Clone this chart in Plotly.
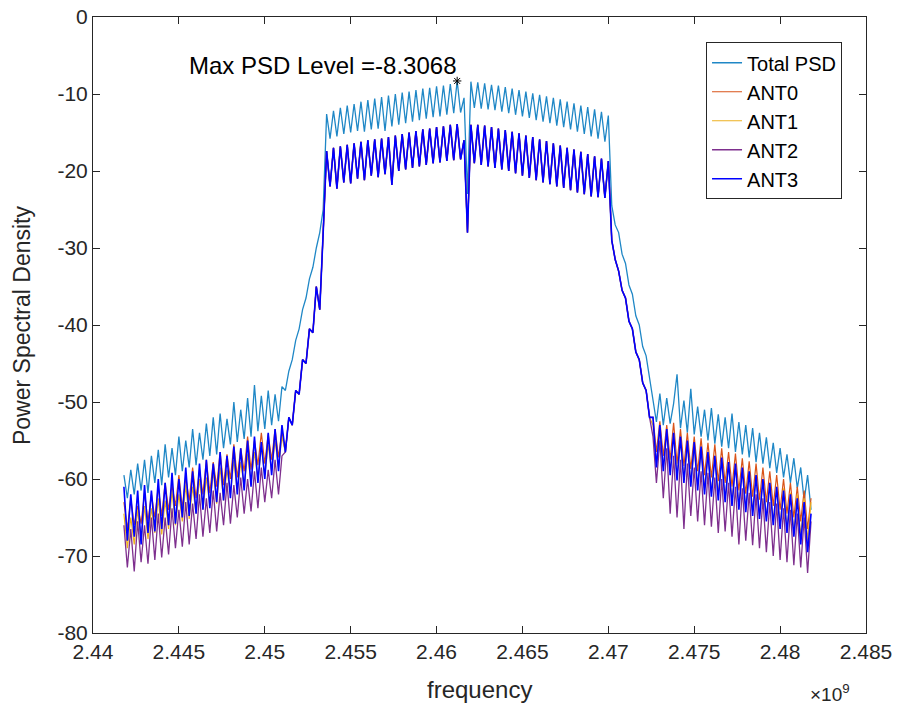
import numpy as np
import plotly.graph_objects as go

# ---------------- data ----------------
F_START_HZ = 2.4418e9
F_STEP_HZ = 0.2e6
N_POINTS = 201
frequency = F_START_HZ + F_STEP_HZ * np.arange(N_POINTS)

total_left = [-59.5,-62.5,-58.8,-62.0,-58.0,-61.5,-57.5,-61.8,-57.0,-60.5,
              -56.2,-60.8,-55.5,-59.8,-56.0,-59.5,-54.5,-59.0,-55.0,-58.5,
              -53.5,-58.2,-54.0,-57.5,-52.8,-57.0,-52.0,-56.8,-51.5,-56.0,
              -52.2,-55.5,-50.0,-55.2,-51.0,-54.8,-49.5,-54.5,-47.8,-53.8,
              -49.2,-53.5,-48.5,-53.0,-49.0,-52.5,-48.0]
total_rise = [-48.5,-46.0,-44.5,-42.0,-40.5,-38.0,-36.5,-34.0,-32.5,-30.0,-28.0,-25.0]
total_band = [-12.6,-15.8,-12.2,-15.5,-11.8,-15.2,-11.5,-15.0,-11.3,-14.8,
              -11.0,-14.9,-10.8,-14.6,-10.6,-14.5,-10.4,-14.8,-10.2,-14.2,
              -10.0,-14.0,-9.8,-13.8,-9.7,-13.6,-9.5,-13.4,-9.3,-13.2,
              -9.2,-13.0,-9.0,-12.9,-8.9,-12.7,-8.7,-12.5,-8.3068,-12.4,
              -10.5,
              -23.0,
              -8.4,-11.8,-8.5,-11.9,-8.6,-12.0,-8.8,-12.1,-8.9,-12.3,
              -9.1,-12.5,-9.3,-12.7,-9.5,-12.9,-9.7,-13.1,-9.9,-13.4,
              -10.1,-13.6,-10.3,-13.8,-10.5,-14.1,-10.7,-14.3,-11.0,-14.6,
              -11.2,-14.9,-11.5,-15.2,-11.7,-15.5,-12.0,-15.8,-12.3,-16.2,
              -12.8]
total_fall = [-24.5,-27.0,-28.0,-30.8,-32.0,-34.8,-36.0,-38.8,-40.0,-42.8,-44.0,-47.0]
total_right = [-49.8,-52.6,-48.9,-53.0,-49.5,-52.8,-50.2,-46.4,-53.4,-49.8,
               -54.0,-48.3,-54.2,-50.6,-54.5,-51.0,-55.0,-50.8,-55.4,-51.6,
               -55.8,-52.0,-56.0,-51.5,-56.5,-52.6,-56.8,-53.0,-57.2,-53.4,
               -57.8,-54.0,-58.0,-54.6,-58.6,-55.3,-59.2,-56.0,-59.8,-56.8,
               -60.5,-57.3,-61.2,-58.5,-62.8,-59.5,-64.0]

ant3_left = [-61.0,-68.0,-62.0,-67.5,-61.5,-68.5,-60.8,-67.0,-61.5,-66.8,
             -60.0,-66.5,-60.5,-66.0,-59.2,-65.8,-60.0,-65.0,-58.5,-64.8,
             -59.0,-64.5,-58.0,-64.0,-57.5,-63.8,-58.0,-63.0,-56.5,-62.8,
             -57.0,-62.5,-55.8,-62.0,-56.0,-61.5,-55.0,-61.0,-54.5,-60.5,
             -55.2,-60.0,-54.0,-59.5,-53.5,-59.0,-53.0]
ant_rise = [-56.5,-52.0,-53.0,-48.5,-49.0,-44.5,-45.0,-40.5,-41.0,-35.0,-38.0,-28.0]
ant_band = [-17.4,-22.0,-17.0,-22.3,-16.8,-21.5,-16.6,-21.6,-16.4,-21.0,
            -16.2,-21.2,-16.0,-20.6,-15.9,-20.8,-15.8,-20.4,-15.6,-21.8,
            -15.4,-20.0,-15.2,-19.8,-15.0,-19.6,-14.8,-19.4,-14.6,-19.2,
            -14.5,-19.0,-14.3,-18.9,-14.2,-18.7,-14.0,-18.6,-13.9,-18.5,
            -16.0,
            -28.0,
            -14.0,-19.0,-14.0,-19.2,-14.1,-19.4,-14.3,-19.6,-14.5,-19.8,
            -14.7,-20.0,-14.9,-20.3,-15.1,-20.6,-15.4,-20.9,-15.6,-21.2,
            -15.9,-21.5,-16.1,-21.7,-16.4,-22.0,-16.7,-22.2,-17.0,-22.5,
            -17.2,-22.8,-17.5,-23.0,-17.8,-23.3,-18.1,-23.4,-18.4,-23.5,
            -18.7]
ant_fall = [-29.0,-31.5,-33.0,-35.5,-36.5,-39.5,-40.5,-43.5,-44.5,-47.5,-48.5,-52.0]
ant3_right = [-52.0,-58.5,-53.0,-59.0,-53.5,-59.5,-54.0,-60.2,-54.5,-60.5,
              -55.0,-61.0,-55.2,-61.5,-55.8,-62.0,-56.5,-62.3,-57.0,-62.8,
              -57.2,-63.0,-57.8,-63.5,-58.0,-64.0,-58.5,-64.3,-59.0,-64.8,
              -59.5,-65.2,-60.0,-65.5,-60.5,-66.0,-61.0,-66.5,-61.5,-67.0,
              -62.0,-67.5,-62.5,-68.5,-63.0,-69.5,-64.5]

ant0_left = [-63.0,-66.5,-62.5,-66.0,-63.5,-65.8,-61.8,-65.5,-62.0,-65.0,
             -61.0,-64.8,-60.5,-64.0,-60.8,-63.5,-59.5,-63.8,-59.8,-62.8,
             -58.5,-62.5,-58.8,-62.0,-57.5,-61.8,-57.8,-61.0,-56.5,-60.8,
             -56.8,-60.0,-55.5,-59.8,-56.0,-59.0,-54.5,-58.8,-55.0,-58.2,
             -54.0,-58.0,-54.2,-57.5,-53.5,-57.2,-53.8]
ant0_right = [-52.0,-56.5,-52.5,-57.0,-53.0,-57.5,-52.7,-58.0,-53.5,-58.3,
              -54.0,-58.7,-54.5,-59.0,-54.7,-59.5,-55.3,-59.8,-55.5,-60.3,
              -56.0,-60.5,-56.5,-61.0,-56.7,-61.5,-57.3,-61.9,-57.7,-62.3,
              -58.0,-62.7,-58.5,-63.0,-59.0,-63.5,-59.5,-64.0,-60.0,-64.5,
              -60.5,-65.0,-61.0,-65.5,-61.5,-66.5,-62.5]

ant1_left = [-64.5,-69.0,-65.0,-68.5,-64.0,-68.0,-63.5,-67.8,-63.8,-67.0,
             -62.5,-67.2,-62.8,-66.5,-61.5,-66.0,-62.0,-65.5,-60.8,-65.2,
             -61.0,-64.5,-60.0,-64.0,-59.8,-63.5,-59.0,-63.2,-58.5,-62.8,
             -58.8,-62.0,-57.5,-61.8,-57.8,-61.0,-56.8,-60.5,-56.5,-60.2,
             -55.8,-59.5,-55.5,-59.0,-55.0,-58.5,-54.5]
ant1_right = [-53.0,-58.0,-53.5,-58.5,-54.0,-59.0,-54.2,-59.5,-55.0,-60.0,
              -55.5,-60.5,-55.8,-61.0,-56.2,-61.2,-56.8,-61.8,-57.0,-62.0,
              -57.5,-62.5,-58.0,-63.0,-58.2,-63.5,-58.8,-64.0,-59.0,-64.2,
              -59.5,-64.8,-60.0,-65.0,-60.5,-65.5,-61.0,-66.0,-61.2,-66.5,
              -61.8,-67.0,-62.0,-67.5,-62.5,-68.0,-63.0]

ant2_left = [-66.0,-71.5,-66.5,-72.0,-65.5,-70.8,-66.0,-71.0,-65.0,-70.5,
             -64.5,-70.2,-65.0,-69.8,-63.8,-69.0,-64.0,-68.8,-63.0,-68.5,
             -63.2,-67.8,-62.0,-67.5,-62.5,-67.0,-61.5,-66.8,-61.8,-66.0,
             -60.5,-65.8,-60.8,-65.0,-59.8,-64.5,-60.0,-64.2,-59.0,-63.8,
             -58.5,-63.0,-58.8,-62.5,-57.5,-62.0,-57.0]
ant2_right = [-54.5,-60.5,-55.0,-62.5,-56.0,-64.5,-57.0,-65.0,-57.5,-66.5,
              -58.0,-64.8,-58.5,-65.5,-59.0,-66.0,-59.2,-66.2,-59.8,-67.0,
              -60.0,-66.8,-60.5,-67.5,-61.0,-68.5,-61.2,-68.0,-61.8,-68.6,
              -62.0,-69.0,-62.5,-69.5,-63.0,-70.0,-63.2,-70.5,-63.8,-70.8,
              -64.0,-71.2,-64.5,-71.5,-65.0,-72.2,-65.5]

total_psd = total_left + total_rise + total_band + total_fall + total_right
ant_mid = ant_rise + ant_band + ant_fall
ant0 = ant0_left + ant_mid + ant0_right
ant1 = ant1_left + ant_mid + ant1_right
ant2 = ant2_left + ant_mid + ant2_right
ant3 = ant3_left + ant_mid + ant3_right

series_names = ["Total PSD", "ANT0", "ANT1", "ANT2", "ANT3"]
series_values = [total_psd, ant0, ant1, ant2, ant3]
series_colors = ["#1F87C6", "#D95319", "#EDB120", "#7E2F8E", "#0000FF"]
series_widths = [1.3, 1.2, 1.2, 1.3, 1.6]

x_tick_values = [2.44e9, 2.445e9, 2.45e9, 2.455e9, 2.46e9, 2.465e9, 2.47e9, 2.475e9, 2.48e9, 2.485e9]
x_tick_labels = ["2.44", "2.445", "2.45", "2.455", "2.46", "2.465", "2.47", "2.475", "2.48", "2.485"]
y_tick_values = [0, -10, -20, -30, -40, -50, -60, -70, -80]
y_tick_labels = ["0", "-10", "-20", "-30", "-40", "-50", "-60", "-70", "-80"]

# ---------------- figure ----------------
FONT = "Liberation Sans, Arial, Helvetica, sans-serif"
INK = "#262626"

fig = go.Figure()
for name, vals, col, w in zip(series_names, series_values, series_colors, series_widths):
    fig.add_trace(go.Scatter(x=frequency, y=vals, mode="lines", name=name,
                             legendgroup=name,
                             line=dict(color=col, width=w)))

imax = int(np.argmax(total_psd))
fmax = frequency[imax]
vmax = total_psd[imax]
fig.add_trace(go.Scatter(x=[fmax], y=[vmax], mode="markers", showlegend=False,
                         marker=dict(symbol="asterisk-open", size=7, color="black",
                                     line=dict(color="black", width=1))))
fig.add_annotation(x=fmax, y=vmax, xref="x", yref="y", text=f"Max PSD Level ={vmax:.4f}",
                   showarrow=False, xanchor="right", yanchor="bottom", yshift=0, xshift=1,
                   font=dict(family=FONT, size=24, color="black"))

# axis titles and exponent label
fig.add_annotation(x=0.5, y=-0.0925, xref="paper", yref="paper", text="frequency",
                   showarrow=False, xanchor="center", yanchor="middle",
                   font=dict(family=FONT, size=24, color=INK))
fig.add_annotation(x=-0.0918, y=0.5, xref="paper", yref="paper", text="Power Spectral Density",
                   showarrow=False, xanchor="center", yanchor="middle", textangle=-90,
                   font=dict(family=FONT, size=23, color=INK))
fig.add_annotation(x=0.953, y=-0.097, xref="paper", yref="paper", text="×10<sup>9</sup>",
                   showarrow=False, xanchor="center", yanchor="middle",
                   font=dict(family=FONT, size=19, color=INK))

axis_common = dict(showgrid=False, zeroline=False, showline=True, linecolor=INK, linewidth=1,
                   mirror="allticks", ticks="inside", ticklen=7, tickcolor=INK, automargin=False,
                   ticklabeloverflow="allow",
                   tickfont=dict(family=FONT, size=21, color=INK))

# the page adds an 8 px body margin, so the figure is 8 px smaller and margins shifted
fig.update_layout(
    width=895, height=699, autosize=False,
    margin=dict(l=85, r=37, t=9, b=74),
    plot_bgcolor="white", paper_bgcolor="white",
    showlegend=True,
    legend=dict(x=0.969, y=0.959, xanchor="right", yanchor="top",
                bgcolor="white", bordercolor=INK, borderwidth=1,
                font=dict(family=FONT, size=20, color="black"),
                tracegroupgap=0, traceorder="normal"),
    xaxis=dict(range=[2.44e9, 2.485e9], tickvals=x_tick_values, ticktext=x_tick_labels,
               **axis_common),
    yaxis=dict(range=[-80, 0], tickvals=y_tick_values, ticktext=y_tick_labels,
               **axis_common),
)

fig.write_html("out.html")
